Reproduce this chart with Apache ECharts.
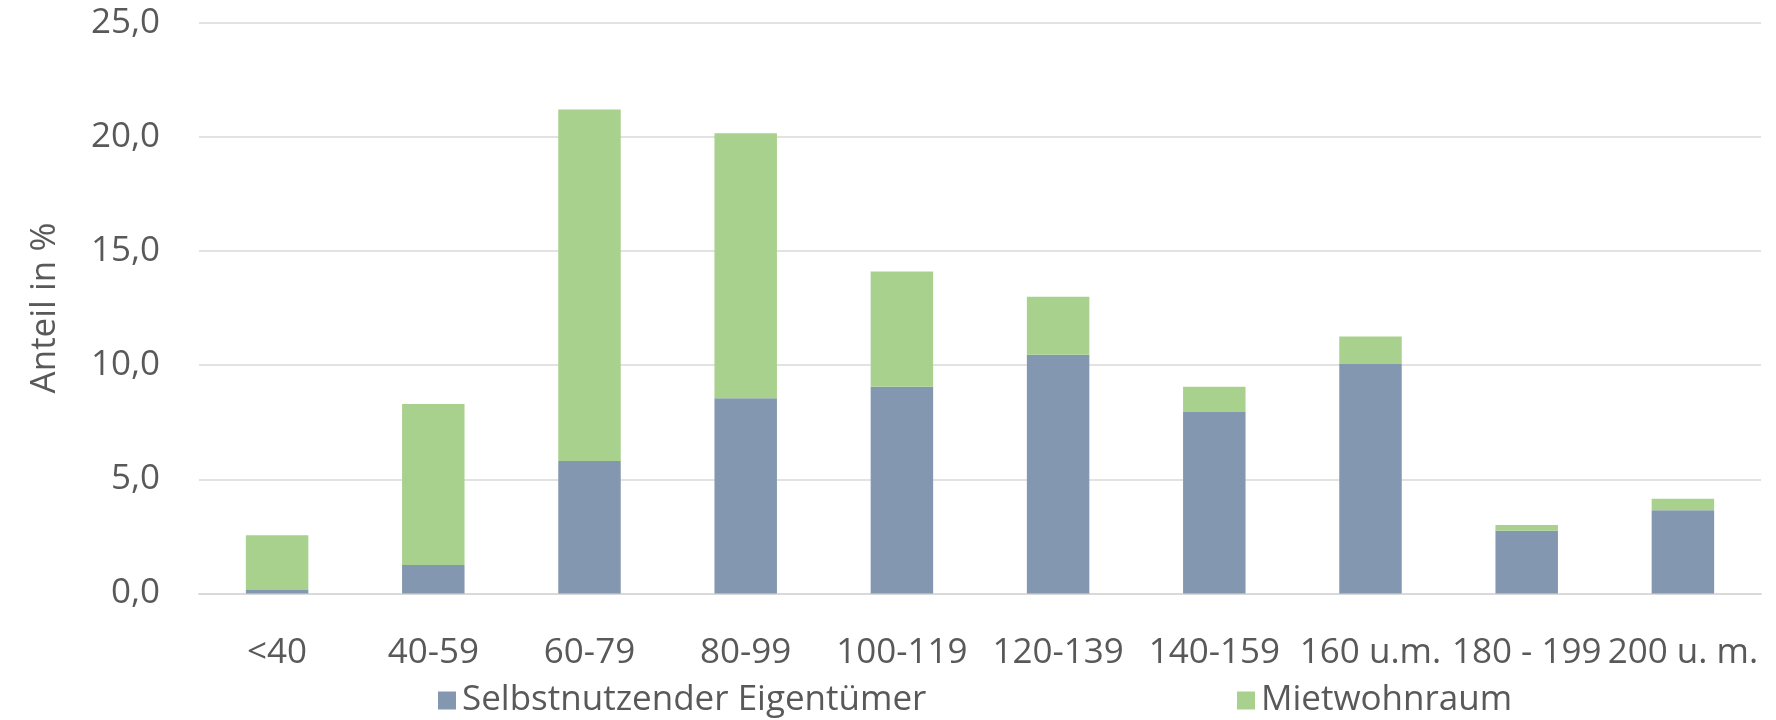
<!DOCTYPE html>
<html>
<head>
<meta charset="utf-8">
<script src="https://cdn.jsdelivr.net/npm/echarts@6/dist/echarts.min.js"></script>
<style>
  html, body { margin: 0; padding: 0; background: #fff; }
  #chart { width: 1776px; height: 720px; }
</style>
</head>
<body>
<div id="chart"></div>
<script>
// Wohnflächenklassen (m²)
const categories = ['<40', '40-59', '60-79', '80-99', '100-119', '120-139', '140-159', '160 u.m.', '180 - 199', '200 u. m.'];
// Anteile in %
const selbstnutzer = [0.15, 1.25, 5.8, 8.55, 9.05, 10.45, 7.95, 10.05, 2.75, 3.65];
const mietwohnraum = [2.4, 7.05, 15.4, 11.6, 5.05, 2.55, 1.1, 1.2, 0.25, 0.5];
const yTicks = { min: 0, max: 25, interval: 5 };

const FONT = '"Open Sans", "Noto Sans", sans-serif';
const TEXT = '#595959';
const GRID = '#d9d9d9';

const legendBase = {
  top: 683, padding: 0,
  itemWidth: 18, itemHeight: 18, icon: 'rect',
  textStyle: { fontFamily: FONT, fontSize: 35, color: TEXT, padding: [0, 0, 0, 1] }
};

const chart = echarts.init(document.getElementById('chart'), null, { renderer: 'canvas' });
chart.setOption({
  animation: false,
  backgroundColor: '#ffffff',
  textStyle: { fontFamily: FONT },
  grid: { left: 199, right: 15, top: 22.6, bottom: 126.5, containLabel: false },
  legend: [
    Object.assign({}, legendBase, { data: ['Selbstnutzender Eigentümer'], left: 438 }),
    Object.assign({}, legendBase, { data: ['Mietwohnraum'], left: 1237 })
  ],
  xAxis: {
    type: 'category',
    data: categories,
    axisLine: { lineStyle: { color: GRID, width: 2 } },
    axisTick: { show: false },
    axisLabel: { interval: 0, margin: 42, fontFamily: FONT, fontSize: 35, color: TEXT }
  },
  yAxis: {
    type: 'value',
    min: yTicks.min, max: yTicks.max, interval: yTicks.interval,
    name: 'Anteil in %',
    nameLocation: 'middle',
    nameGap: 136,
    nameTextStyle: { fontFamily: FONT, fontSize: 35, color: TEXT },
    axisLine: { show: false },
    axisTick: { show: false },
    splitLine: { lineStyle: { color: GRID, width: 1.5 } },
    axisLabel: {
      margin: 39, fontFamily: FONT, fontSize: 35, color: TEXT,
      formatter: v => v.toFixed(1).replace('.', ',')
    }
  },
  series: [
    {
      name: 'Selbstnutzender Eigentümer',
      type: 'bar', stack: 'anteil', barWidth: '40%',
      itemStyle: { color: '#8497b0' },
      data: selbstnutzer
    },
    {
      name: 'Mietwohnraum',
      type: 'bar', stack: 'anteil', barWidth: '40%',
      itemStyle: { color: '#a9d18e' },
      data: mietwohnraum
    }
  ]
});
</script>
</body>
</html>
